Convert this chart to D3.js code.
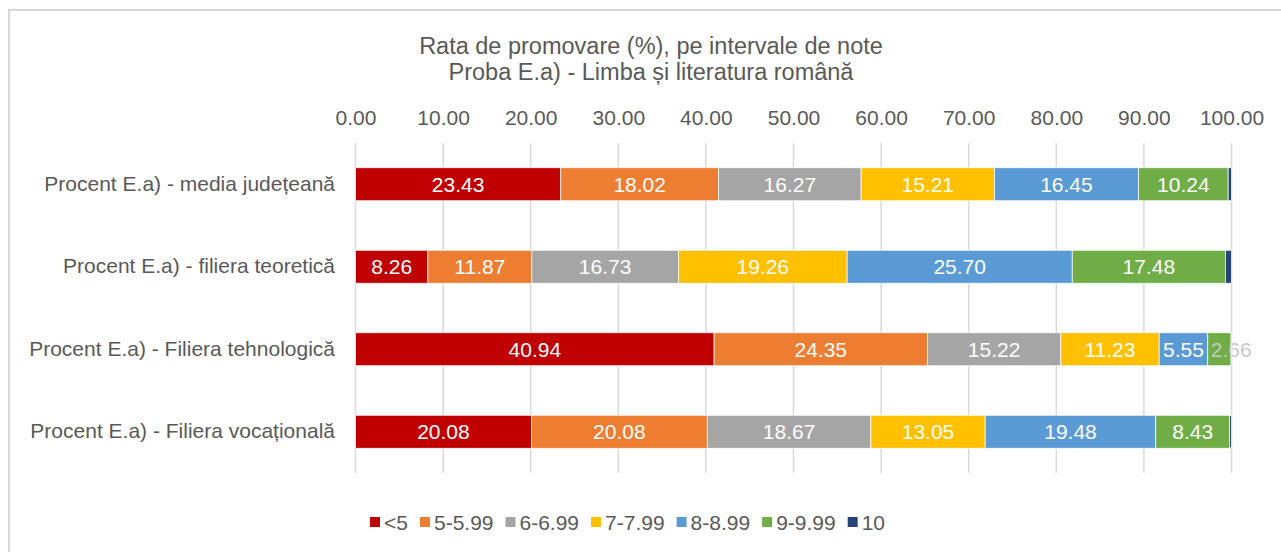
<!DOCTYPE html>
<html>
<head>
<meta charset="utf-8">
<script src="https://cdn.jsdelivr.net/npm/d3@7"></script>
<style>
  body { margin: 0; background: #fff; }
  text { font-family: "Liberation Sans", Arial, sans-serif; }
</style>
</head>
<body>
<div class="chart"></div>
<script>
var w = 1281,
	h = 552;

const categories = [
	"Procent E.a) - media județeană",
	"Procent E.a) - filiera teoretică",
	"Procent E.a) - Filiera tehnologică",
	"Procent E.a) - Filiera vocațională"
];
const seriesNames = ["<5", "5-5.99", "6-6.99", "7-7.99", "8-8.99", "9-9.99", "10"];
const colors = ["#c00000", "#ed7d31", "#a5a5a5", "#ffc000", "#5b9bd5", "#70ad47", "#264478"];

// one array per series, in category order
const s1 = [23.43, 8.26, 40.94, 20.08];
const s2 = [18.02, 11.87, 24.35, 20.08];
const s3 = [16.27, 16.73, 15.22, 18.67];
const s4 = [15.21, 19.26, 11.23, 13.05];
const s5 = [16.45, 25.7, 5.55, 19.48];
const s6 = [10.24, 17.48, 2.66, 8.43];
const s7 = [0.38, 0.7, 0.05, 0.21];
const showLabel = [true, true, true, true, true, true, false];

const xTicks = [0, 10, 20, 30, 40, 50, 60, 70, 80, 90, 100];

const rows = categories.map((c, i) => {
	var r = { cat: c };
	[s1, s2, s3, s4, s5, s6, s7].forEach((s, j) => (r[seriesNames[j]] = s[i]));
	return r;
});

var svg = d3.select(".chart").append("svg").attr("width", w).attr("height", h);

// chart border (only top/left visible in frame)
svg.append("rect")
	.attr("x", 9).attr("y", 10)
	.attr("width", w + 20).attr("height", h + 20)
	.attr("fill", "none").attr("stroke", "#d9d9d9").attr("stroke-width", 2);

const title = svg.append("g").attr("fill", "#595959").attr("font-size", 23.5).attr("text-anchor", "middle");
title.append("text").attr("x", 651).attr("y", 54).text("Rata de promovare (%), pe intervale de note");
title.append("text").attr("x", 651).attr("y", 80).text("Proba E.a) - Limba și literatura română");

const xScale = d3.scaleLinear().domain([0, 100]).range([355.5, 1231.5]);
const yScale = d3.scaleBand().domain(categories).range([143, 473]).paddingInner(0.6).paddingOuter(0.3);

// gridlines
svg.append("g")
	.selectAll("line")
	.data(xTicks)
	.enter()
	.append("line")
	.attr("x1", (d) => xScale(d)).attr("x2", (d) => xScale(d))
	.attr("y1", 143).attr("y2", 473)
	.attr("stroke", "#d9d9d9").attr("stroke-width", 1.5);

const xAxis = d3.axisTop(xScale).tickValues(xTicks).tickFormat(d3.format(".2f")).tickSize(0).tickPadding(0);
svg.append("g")
	.attr("id", "x-axis")
	.attr("transform", "translate(0,125)")
	.call(xAxis)
	.call((g) => g.select(".domain").remove())
	.selectAll("text")
	.attr("font-size", 21).attr("fill", "#595959").attr("font-family", "Liberation Sans, Arial, sans-serif");

const yAxis = d3.axisLeft(yScale).tickSize(0).tickPadding(20);
svg.append("g")
	.attr("id", "y-axis")
	.attr("transform", "translate(355,0)")
	.call(yAxis)
	.call((g) => g.select(".domain").remove())
	.selectAll("text")
	.attr("font-size", 21).attr("fill", "#595959").attr("font-family", "Liberation Sans, Arial, sans-serif");

const stack = d3.stack().keys(seriesNames)(rows);

const layer = svg.append("g")
	.selectAll("g")
	.data(stack)
	.enter()
	.append("g")
	.attr("fill", (d, i) => colors[i]);

layer.selectAll("rect")
	.data((d) => d)
	.enter()
	.append("rect")
	.attr("x", (d) => xScale(d[0]))
	.attr("y", (d) => yScale(d.data.cat))
	.attr("width", (d) => xScale(d[1]) - xScale(d[0]))
	.attr("height", yScale.bandwidth())
	.attr("stroke", "#fff").attr("stroke-width", 0.75);

// labels that don't fit their segment start at its left edge in light grey
layer.each(function (s, i) {
	if (!showLabel[i]) return;
	d3.select(this)
		.selectAll("text")
		.data(s)
		.enter()
		.append("text")
		.attr("y", (d) => yScale(d.data.cat) + yScale.bandwidth() / 2)
		.attr("dy", "0.36em")
		.attr("font-size", 21)
		.text((d) => (d[1] - d[0]).toFixed(2))
		.each(function (d) {
			const segW = xScale(d[1]) - xScale(d[0]);
			const tw = this.getComputedTextLength();
			const t = d3.select(this);
			if (tw + 4 > segW) {
				t.attr("x", xScale(d[0]) + 3).attr("text-anchor", "start").attr("fill", "#c8c8c8");
			} else {
				t.attr("x", (xScale(d[0]) + xScale(d[1])) / 2).attr("text-anchor", "middle").attr("fill", "#fff");
			}
		});
});

// legend, laid out left to right from measured text widths
const legend = svg.append("g").attr("transform", "translate(370,517)");
var lx = 0;
seriesNames.forEach((name, i) => {
	const g = legend.append("g").attr("transform", "translate(" + lx + ",0)");
	g.append("rect").attr("width", 10).attr("height", 10).attr("fill", colors[i]);
	const t = g.append("text")
		.attr("x", 14).attr("y", 5).attr("dy", "0.36em")
		.attr("font-size", 21).attr("fill", "#595959")
		.text(name);
	lx += 14 + t.node().getComputedTextLength() + 12;
});
</script>
</body>
</html>
